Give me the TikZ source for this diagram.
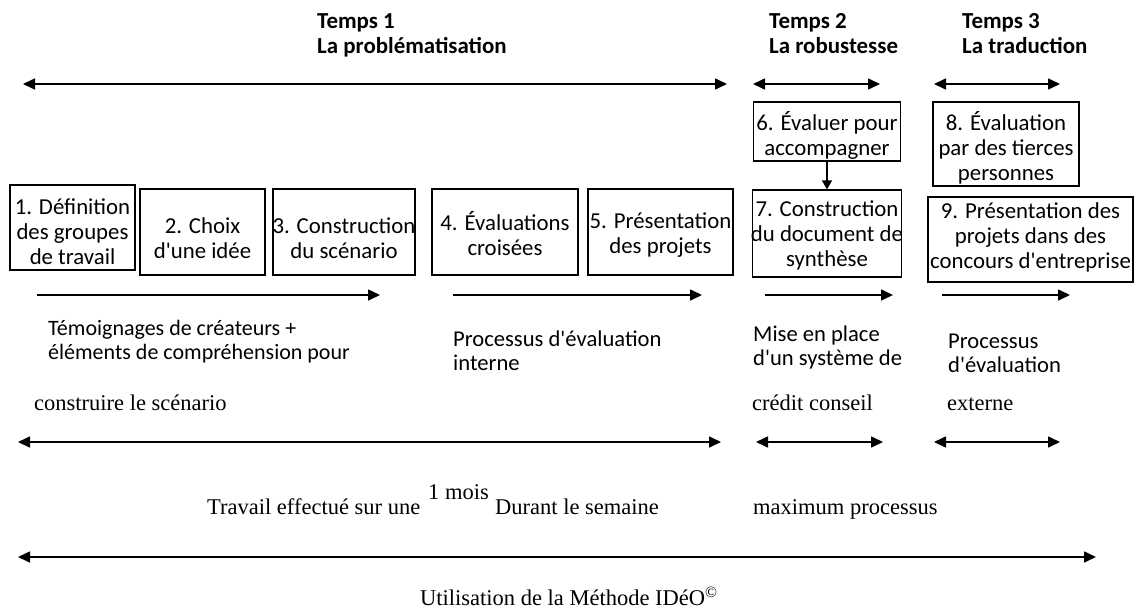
\documentclass[tikz,border=0pt]{standalone}
\usepackage{fontspec}
\setmainfont{Liberation Serif}
\newfontfamily\calfont{Carlito}
\usetikzlibrary{arrows.meta}
\begin{document}
\begin{tikzpicture}[x=1pt,y=-1pt,
  box/.style={draw, line width=1.3pt, inner sep=0pt},
  btxt/.style={font=\calfont\fontsize{22.8}{25}\selectfont, align=center, inner sep=0pt, anchor=north},
  ltxt/.style={font=\calfont\fontsize{22.6}{24.5}\selectfont, align=left, inner sep=0pt, anchor=north west},
  head/.style={font=\calfont\bfseries\fontsize{22.9}{25}\selectfont, align=left, inner sep=0pt, anchor=north west},
  stxt/.style={font=\fontsize{22.5}{26}\selectfont, inner sep=0pt, anchor=base west},
  dbl/.style={{Triangle[length=12pt,width=11pt]}-{Triangle[length=12pt,width=11pt]}, line width=1.6pt},
  sgl/.style={-{Triangle[length=12pt,width=11pt]}, line width=1.6pt},
  small/.style={-{Triangle[length=9pt,width=10pt]}, line width=1.3pt},
]
\useasboundingbox (0,0) rectangle (1138,608);

% headers
\node[head] (h1) at (317,11) {\strut Temps 1\\La problématisation};
\node[head] (h2) at (769,11) {\strut Temps 2\\La robustesse};
\node[head] (h3) at (962,11) {\strut Temps 3\\La traduction};

% top double arrows
\coordinate (a1l) at (23,84);  \coordinate (a1r) at (727,84);
\coordinate (a2l) at (753,84); \coordinate (a2r) at (880,84);
\coordinate (a3l) at (934,84); \coordinate (a3r) at (1060,84);
\draw[dbl] (a1l) -- (a1r);
\draw[dbl] (a2l) -- (a2r);
\draw[dbl] (a3l) -- (a3r);

% boxes
\node[box, minimum width=125pt, minimum height=85pt] (b1) at (72.5,227.5) {};
\node[box, minimum width=125pt, minimum height=86pt] (b2) at (202.5,232) {};
\node[box, minimum width=142pt, minimum height=86pt] (b3) at (344,232) {};
\node[box, minimum width=146pt, minimum height=86pt] (b4) at (505,232) {};
\node[box, minimum width=145pt, minimum height=86pt] (b5) at (660.5,232) {};
\node[box, minimum width=147pt, minimum height=59pt] (b6) at (827,131.5) {};
\node[box, minimum width=149pt, minimum height=87pt] (b7) at (827,233.5) {};
\node[box, minimum width=146pt, minimum height=84pt] (b8) at (1006,144) {};
\node[box, minimum width=205pt, minimum height=85pt] (b9) at (1030.5,239.5) {};

\node[btxt] (t1) at (72.5,197) {\strut 1. Définition\\des groupes\\de travail};
\node[btxt] (t2) at (202.5,216) {\strut 2. Choix\\d'une idée};
\node[btxt] (t3) at (344,216) {\strut 3. Construction\\du scénario};
\node[btxt] (t4) at (505,211) {\strut 4. Évaluations\\croisées};
\node[btxt] (t5) at (660.5,211) {\strut 5. Présentation\\des projets};
\node[btxt] (t6) at (827,111) {\strut 6. Évaluer pour\\accompagner};
\node[btxt] (t7) at (827,199) {\strut 7. Construction\\du document de\\synthèse};
\node[btxt] (t8) at (1006,111) {\strut 8. Évaluation\\par des tierces\\personnes};
\node[btxt] (t9) at (1030.5,201) {\strut 9. Présentation des\\projets dans des\\concours d'entreprise};

\draw[small] (b6.south) -- (b7.north);

% single arrows under boxes
\coordinate (s1l) at (37,295);  \coordinate (s1r) at (380,295);
\coordinate (s2l) at (453,295); \coordinate (s2r) at (702,295);
\coordinate (s3l) at (765,295); \coordinate (s3r) at (893,295);
\coordinate (s4l) at (942,295); \coordinate (s4r) at (1070,295);
\draw[sgl] (s1l) -- (s1r);
\draw[sgl] (s2l) -- (s2r);
\draw[sgl] (s3l) -- (s3r);
\draw[sgl] (s4l) -- (s4r);

% descriptive texts
\node[ltxt, font=\calfont\fontsize{22}{24.5}\selectfont] (d1) at (48,318) {\strut Témoignages de créateurs +\\éléments de compréhension pour};
\node[ltxt] (d2) at (453,329) {\strut Processus d'évaluation\\interne};
\node[ltxt] (d3) at (753,324) {\strut Mise en place\\d'un système de};
\node[ltxt] (d4) at (948,331) {\strut Processus\\d'évaluation};

\node[stxt] (e1) at (34,410) {construire le scénario};
\node[stxt] (e2) at (752,410) {crédit conseil};
\node[stxt] (e3) at (947,410) {externe};

% lower double arrows
\coordinate (c1l) at (18,442);  \coordinate (c1r) at (721,442);
\coordinate (c2l) at (756,442); \coordinate (c2r) at (883,442);
\coordinate (c3l) at (934,442); \coordinate (c3r) at (1060,442);
\draw[dbl] (c1l) -- (c1r);
\draw[dbl] (c2l) -- (c2r);
\draw[dbl] (c3l) -- (c3r);

\node[stxt] (f1) at (207,514) {Travail effectué sur une};
\node[stxt] (f2) at (428,499) {1 mois};
\node[stxt] (f3) at (495,514) {Durant le semaine};
\node[stxt] (f4) at (753,514) {maximum processus};

% final arrow
\coordinate (gl) at (18,557); \coordinate (gr) at (1096,557);
\draw[dbl] (gl) -- (gr);

\node[stxt] (u) at (420,605) {Utilisation de la Méthode IDéO\textsuperscript{©}};
\end{tikzpicture}
\end{document}
